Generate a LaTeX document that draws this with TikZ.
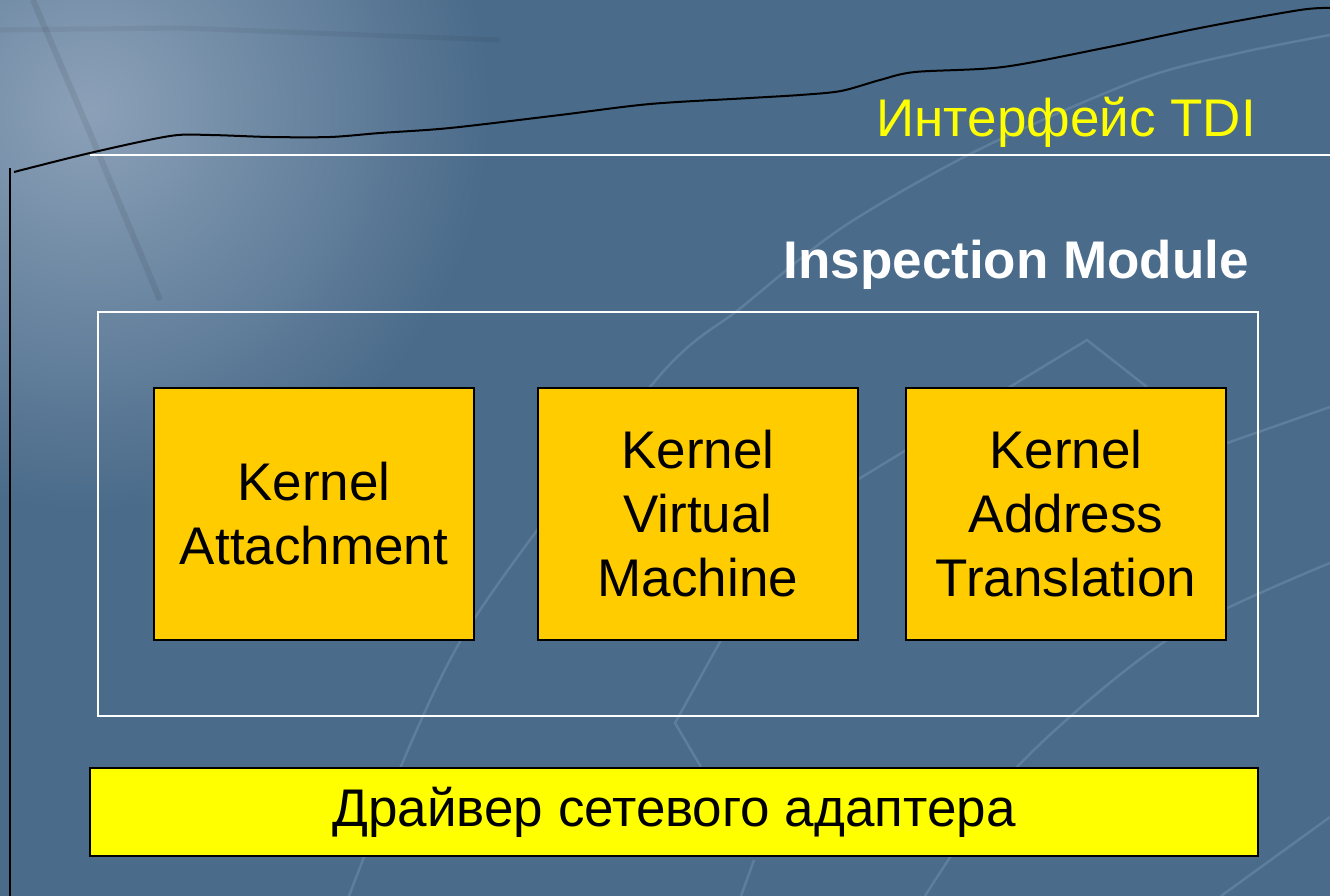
\documentclass[tikz,border=0pt]{standalone}
\usepackage{fontspec}
\setmainfont{Liberation Sans}
\definecolor{slide}{RGB}{74,107,138}
\definecolor{slidelight}{RGB}{140,161,184}
\definecolor{streak}{RGB}{110,139,168}
\definecolor{kernelfill}{RGB}{255,204,0}
\definecolor{driverfill}{RGB}{255,255,0}
\newcommand{\slidefont}{\fontsize{53}{64}\selectfont}
\tikzset{
  kernel/.style={draw=black, line width=2.5pt, fill=kernelfill,
    minimum width=320pt, minimum height=252pt, inner sep=0pt,
    align=center, font=\slidefont},
  driver/.style={draw=black, line width=2.5pt, fill=driverfill,
    minimum width=1168pt, minimum height=88pt, inner sep=0pt,
    font=\slidefont},
  module/.style={draw=white, line width=2pt,
    minimum width=1160pt, minimum height=404pt, inner sep=0pt},
  heading/.style={anchor=base east, inner sep=0pt, font=\slidefont},
  streakline/.style={streak, line width=2.5pt, opacity=.6}
}
\begin{document}
\begin{tikzpicture}[x=1pt,y=-1pt]
  %% slide background
  \useasboundingbox (0,0) rectangle (1330,896);
  \fill[slide] (0,0) rectangle (1330,896);
  \begin{scope}
    \clip (0,0) rectangle (1330,896);
    \shade[inner color=slidelight, outer color=slide] (90,110) circle (400);
    \draw[black, opacity=.08, line width=6pt] (33,0) -- (90,133) -- (160,300);
    \draw[black, opacity=.05, line width=5pt] (0,30) -- (180,28) -- (500,40);
    % faint arcs of the template
    \draw[streakline] plot[smooth] coordinates {(349,896) (461,640) (655,381)
      (742,307) (843,227) (978,150) (1138,80) (1239,53) (1330,35)};
    \draw[streakline] plot[smooth] coordinates {(925,896) (1017,767)
      (1167,640) (1330,563)};
    \draw[streakline] (1227,443) -- (1330,407);
    \draw[streakline] (857,480) -- (1087,340) -- (1147,387);
    \draw[streakline] (721,640) -- (675,723) -- (701,767);
    \draw[streakline] (754,860) -- (741,896);
    \draw[streakline] (1221,896) -- (1330,817);
  \end{scope}

  %% title lines
  \draw[line width=2pt] plot[smooth] coordinates {(14,172) (90,153)
    (170,136) (210,135) (270,137) (330,137) (380,133) (450,128) (560,115)
    (650,104) (750,98) (800,95) (841,91) (880,80) (915,72) (1003,67)
    (1104,48) (1205,27) (1300,10) (1330,8)};
  \draw[line width=2pt] (10,168) -- (10,896);
  \draw[white, line width=2pt] (90,155) -- (1330,155);

  \node[heading, text=driverfill] (tdi) at (1256,137) {Интерфейс TDI};
  \node[heading, text=white, font=\slidefont\bfseries] (inspect) at (1249,278)
    {Inspection Module};

  %% inspection module and its parts
  \node[module] (frame) at (678,514) {};
  \node[kernel] (attach) at (314,514) {Kernel\\Attachment};
  \node[kernel] (kvm) at (698,514) {Kernel\\Virtual\\Machine};
  \node[kernel] (kat) at (1066,514) {Kernel\\Address\\Translation};

  \node[driver] (nic) at (674,812) {Драйвер сетевого адаптера};
\end{tikzpicture}
\end{document}
